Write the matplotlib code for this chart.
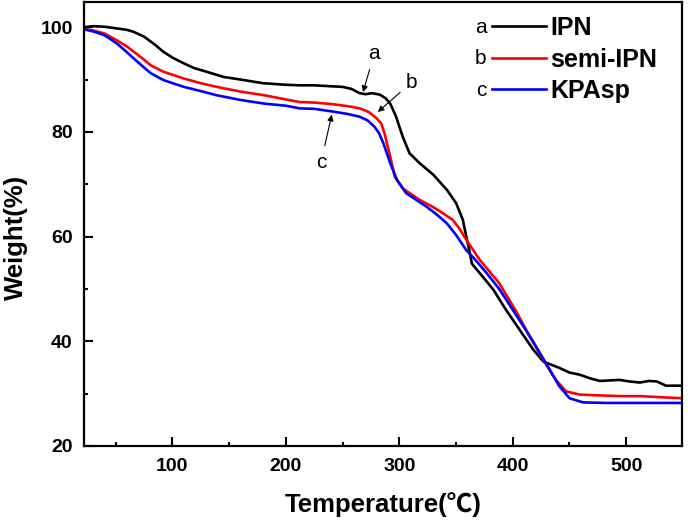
import matplotlib
matplotlib.use("Agg")
import matplotlib.pyplot as plt
from matplotlib.ticker import MultipleLocator

# --- data ---
temp_ipn = [22, 30, 40, 50, 60, 66, 75, 85, 92, 100, 110, 119, 130, 145, 160, 180,
            200, 212, 225, 241, 250, 258, 265, 270, 276, 283, 288, 292, 297, 300,
            303, 309, 318, 330, 342, 350, 356, 359, 361, 364, 374, 383, 394, 406,
            418, 427, 441, 450, 459, 468, 477, 485, 494, 503, 512, 520, 527, 535, 549]
w_ipn = [100.0, 100.2, 100.1, 99.8, 99.5, 99.1, 98.2, 96.6, 95.3, 94.2, 93.1, 92.2,
         91.5, 90.5, 90.0, 89.3, 89.0, 88.9, 88.9, 88.7, 88.6, 88.2, 87.4, 87.2,
         87.4, 87.1, 86.4, 85.4, 83.0, 81.0, 79.1, 75.9, 74.0, 71.8, 68.9, 66.4,
         63.2, 60.0, 58.1, 54.8, 52.2, 49.8, 46.0, 42.2, 38.4, 36.1, 34.9, 34.0,
         33.6, 32.9, 32.4, 32.5, 32.6, 32.3, 32.1, 32.4, 32.3, 31.5, 31.5]

temp_semi = [22, 30, 40, 51, 60, 66, 75, 81, 92, 110, 125, 139, 160, 181, 200, 212,
             225, 241, 255, 265, 273, 280, 284, 287, 290, 292, 296, 303, 318, 330,
             336, 347, 353, 359, 371, 388, 403, 415, 427, 438, 447, 459, 470, 482,
             495, 512, 530, 549]
w_semi = [99.7, 99.4, 98.8, 97.5, 96.3, 95.3, 93.8, 92.7, 91.5, 90.2, 89.3, 88.6,
          87.7, 87.0, 86.2, 85.7, 85.6, 85.3, 84.9, 84.5, 83.8, 82.6, 81.6, 79.7,
          77.0, 75.3, 71.4, 69.2, 67.0, 65.6, 64.8, 63.2, 61.5, 59.4, 55.5, 51.1,
          45.7, 40.9, 36.4, 32.6, 30.4, 29.8, 29.7, 29.6, 29.5, 29.5, 29.3, 29.1]

temp_kpasp = [22, 30, 40, 51, 60, 66, 75, 81, 92, 110, 125, 139, 160, 181, 200, 212,
              225, 241, 255, 265, 272, 278, 282, 286, 292, 298, 306, 315, 324, 333,
              342, 350, 359, 366, 377, 388, 403, 418, 430, 441, 450, 462, 482, 500,
              520, 549]
w_kpasp = [99.6, 99.2, 98.5, 96.9, 95.2, 94.0, 92.3, 91.2, 89.9, 88.6, 87.8, 87.0,
           86.1, 85.4, 85.0, 84.5, 84.4, 83.9, 83.4, 82.9, 82.2, 81.0, 79.8, 77.8,
           74.0, 70.8, 68.3, 67.0, 65.7, 64.2, 62.5, 60.3, 57.4, 55.8, 53.0, 50.0,
           45.0, 39.9, 35.5, 31.4, 29.1, 28.3, 28.2, 28.2, 28.2, 28.2]

labels = ["IPN", "semi-IPN", "KPAsp"]
letters = ["a", "b", "c"]
colors = ["black", "red", "blue"]

plt.rcParams['font.family'] = ['Liberation Sans', 'Noto Sans CJK SC', 'DejaVu Sans']

fig = plt.figure(figsize=(6.88, 5.27), dpi=100)
ax = fig.add_axes([0.122, 0.154, 0.869, 0.842])

series = [(temp_ipn, w_ipn), (temp_semi, w_semi), (temp_kpasp, w_kpasp)]
for (t, w), lab, c in zip(series, labels, colors):
    ax.plot(t, w, color=c, lw=1.9, label=lab)

ax.set_xlim(22, 549)
ax.set_ylim(20, 104.8)
ax.xaxis.set_major_locator(MultipleLocator(100))
ax.xaxis.set_minor_locator(MultipleLocator(50))
ax.yaxis.set_major_locator(MultipleLocator(20))
ax.yaxis.set_minor_locator(MultipleLocator(10))
ax.tick_params(which='major', direction='in', length=6.5, width=1.5, labelsize=14,
               top=False, right=False)
ax.tick_params(which='minor', direction='in', length=3, width=1.5, top=False, right=False)
ax.tick_params(axis='x', which='major', pad=9)
ax.tick_params(axis='y', which='major', pad=8)
for lab in ax.get_xticklabels() + ax.get_yticklabels():
    lab.set_fontweight('bold')
for s in ax.spines.values():
    s.set_linewidth(1.6)

ax.set_xlabel("Temperature(℃)", fontsize=18.5, fontweight='bold', labelpad=12)
ax.set_ylabel("Weight(%)", fontsize=18.5, fontweight='bold')
ax.yaxis.set_label_coords(-0.094, 0.47)

leg = ax.legend(loc='upper left', bbox_to_anchor=(0.665, 0.991), frameon=False,
                prop={'weight': 'bold', 'size': 18}, handlelength=2.16,
                handletextpad=0.2, labelspacing=0.3, borderaxespad=0)

# letters in front of the legend lines
fig.canvas.draw()
for line, letter in zip(leg.get_lines(), letters):
    bb = line.get_window_extent(fig.canvas.get_renderer())
    x0, y0 = fig.transFigure.inverted().transform((bb.x0 - 5, (bb.y0 + bb.y1) / 2 - 1))
    fig.text(x0, y0, letter, fontsize=15, ha='right', va='center')

# arrows pointing at each curve
arrow = dict(arrowstyle='-|>', color='black', lw=0.8, mutation_scale=9,
             shrinkA=3, shrinkB=0)
ax.annotate("a", xy=(268, 87.6), xytext=(278, 95.0), fontsize=15,
            ha='center', va='center', arrowprops=arrow)
ax.annotate("b", xy=(281, 83.8), xytext=(311, 89.5), fontsize=15,
            ha='center', va='center', arrowprops=arrow)
ax.annotate("c", xy=(240.5, 83.3), xytext=(231, 74.2), fontsize=15,
            ha='center', va='center', arrowprops=arrow)

fig.savefig("out.png", dpi=100)
